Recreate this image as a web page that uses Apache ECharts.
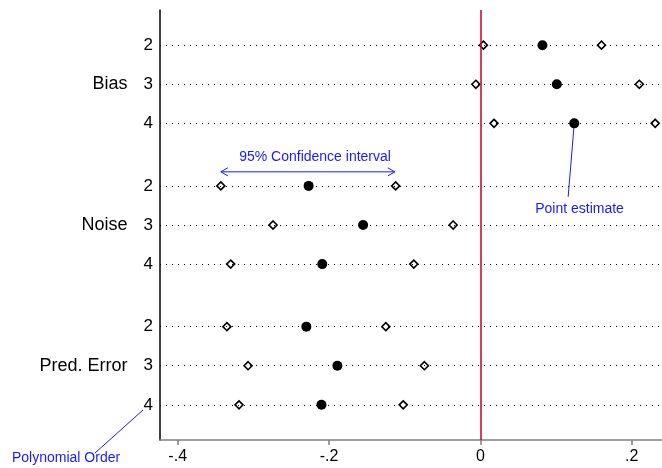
<!DOCTYPE html>
<html>
<head>
<meta charset="utf-8">
<script src="https://cdn.jsdelivr.net/npm/echarts@6/dist/echarts.min.js"></script>
<style>
  html, body { margin: 0; padding: 0; background: #fff; }
  #chart { width: 662px; height: 468px; }
</style>
</head>
<body>
<div id="chart"></div>
<script>
// groups of rows, three polynomial orders each
var groups = ['Bias', 'Noise', 'Pred. Error'];
var orders = ['2', '3', '4'];
// vertical position of each row (a gap between groups)
var rowPos = [1, 2, 3, 4.6, 5.6, 6.6, 8.2, 9.2, 10.2];
var estimate = [0.082, 0.101, 0.124, -0.227, -0.155, -0.209, -0.230, -0.189, -0.210];
var lower = [0.004, -0.006, 0.018, -0.343, -0.274, -0.330, -0.335, -0.307, -0.319];
var upper = [0.160, 0.210, 0.231, -0.112, -0.036, -0.088, -0.125, -0.074, -0.102];
var xTicks = [-0.4, -0.2, 0, 0.2];
var xTickLabels = ['-.4', '-.2', '0', '.2'];

// annotation anchors (data coords)
var ciArrow = [[-0.343, 4.24], [-0.113, 4.24]];
var ciText = [-0.2185, 3.86];
var peLine = [[0.124, 3], [0.116, 4.88]];
var peText = [0.131, 5.2];

var blue = '#1a1aff';
var font = 'Liberation Sans, Arial, sans-serif';

var estData = [], ciData = [];
for (var i = 0; i < rowPos.length; i++) {
  estData.push([estimate[i], rowPos[i]]);
  ciData.push([lower[i], rowPos[i]]);
  ciData.push([upper[i], rowPos[i]]);
}

var rowLines = rowPos.map(function (p) { return { yAxis: p }; });

function rowLabel(v) {
  var idx = -1;
  for (var i = 0; i < rowPos.length; i++) {
    if (Math.abs(rowPos[i] - v) < 1e-6) idx = i;
  }
  if (idx < 0) return '';
  var o = orders[idx % 3];
  if (idx % 3 === 1) return '{g|' + groups[Math.floor(idx / 3)] + '}{n|' + o + '}';
  return '{n|' + o + '}';
}

var myChart = echarts.init(document.getElementById('chart'));
myChart.setOption({
  animation: false,
  textStyle: { fontFamily: font },
  grid: { left: 160, right: 0, top: 10, bottom: 28, containLabel: false },
  xAxis: {
    type: 'value',
    min: -0.4234,
    max: 0.24,
    splitLine: { show: false },
    axisLine: { show: true, onZero: false, lineStyle: { color: '#808080', width: 1.5 } },
    axisTick: { show: true, length: 5, customValues: xTicks, lineStyle: { color: '#808080', width: 1.5 } },
    axisLabel: {
      customValues: xTicks,
      margin: 9,
      fontSize: 16,
      color: '#000',
      formatter: function (v) {
        for (var i = 0; i < xTicks.length; i++) {
          if (Math.abs(xTicks[i] - v) < 1e-6) return xTickLabels[i];
        }
        return '';
      }
    }
  },
  yAxis: {
    type: 'value',
    inverse: true,
    min: 0.1,
    max: 11.1,
    splitLine: { show: false },
    axisLine: { show: true, onZero: false, lineStyle: { color: '#000', width: 1.5 } },
    axisTick: { show: false },
    axisLabel: {
      customValues: rowPos,
      margin: 7,
      formatter: rowLabel,
      rich: {
        g: { fontSize: 18, color: '#000', padding: [0, 16, 0, 0] },
        n: { fontSize: 17, color: '#000' }
      }
    }
  },
  series: [
    {
      // dotted row guides + zero line
      type: 'scatter',
      data: [],
      silent: true,
      markLine: {
        symbol: 'none',
        silent: true,
        label: { show: false },
        data: rowLines.map(function (d) {
          return Object.assign({ lineStyle: { color: '#000', type: [1, 5], width: 1.2 } }, d);
        }).concat([{ xAxis: 0, lineStyle: { color: '#d10a3c', type: 'solid', width: 1.6 } }])
      },
      z: 1
    },
    {
      name: 'CI',
      type: 'scatter',
      symbol: 'diamond',
      symbolSize: 8,
      itemStyle: { color: '#fff', borderColor: '#000', borderWidth: 1.6, opacity: 1 },
      data: ciData,
      z: 3
    },
    {
      name: 'Estimate',
      type: 'scatter',
      symbol: 'circle',
      symbolSize: 10,
      itemStyle: { color: '#000', opacity: 1 },
      data: estData,
      z: 4
    }
  ]
});

// annotations placed through the chart's own scales
function px(p) { return myChart.convertToPixel({ gridIndex: 0 }, p); }
var a0 = px(ciArrow[0]), a1 = px(ciArrow[1]);
var ct = px(ciText);
var p0 = px(peLine[0]), p1 = px(peLine[1]);
var pt = px(peText);
var ls = { stroke: blue, lineWidth: 1 };

myChart.setOption({
  graphic: [
    { type: 'line', shape: { x1: a0[0], y1: a0[1], x2: a1[0], y2: a1[1] }, style: ls },
    { type: 'polyline', shape: { points: [[a0[0] + 7, a0[1] - 4], [a0[0], a0[1]], [a0[0] + 7, a0[1] + 4]] }, style: ls },
    { type: 'polyline', shape: { points: [[a1[0] - 7, a1[1] - 4], [a1[0], a1[1]], [a1[0] - 7, a1[1] + 4]] }, style: ls },
    { type: 'text', x: ct[0], y: ct[1], style: { text: '95% Confidence interval', fill: blue, fontSize: 14, align: 'center', verticalAlign: 'middle', fontFamily: font } },
    { type: 'line', shape: { x1: p0[0], y1: p0[1], x2: p1[0], y2: p1[1] }, style: ls },
    { type: 'text', x: pt[0], y: pt[1], style: { text: 'Point estimate', fill: blue, fontSize: 14, align: 'center', verticalAlign: 'middle', fontFamily: font } },
    { type: 'line', shape: { x1: 143, y1: 410, x2: 95, y2: 453 }, style: ls },
    { type: 'text', x: 12, y: 458, style: { text: 'Polynomial Order', fill: blue, fontSize: 14, align: 'left', verticalAlign: 'middle', fontFamily: font } }
  ]
});

window.addEventListener('resize', function () {
  myChart.resize();
});
</script>
</body>
</html>
